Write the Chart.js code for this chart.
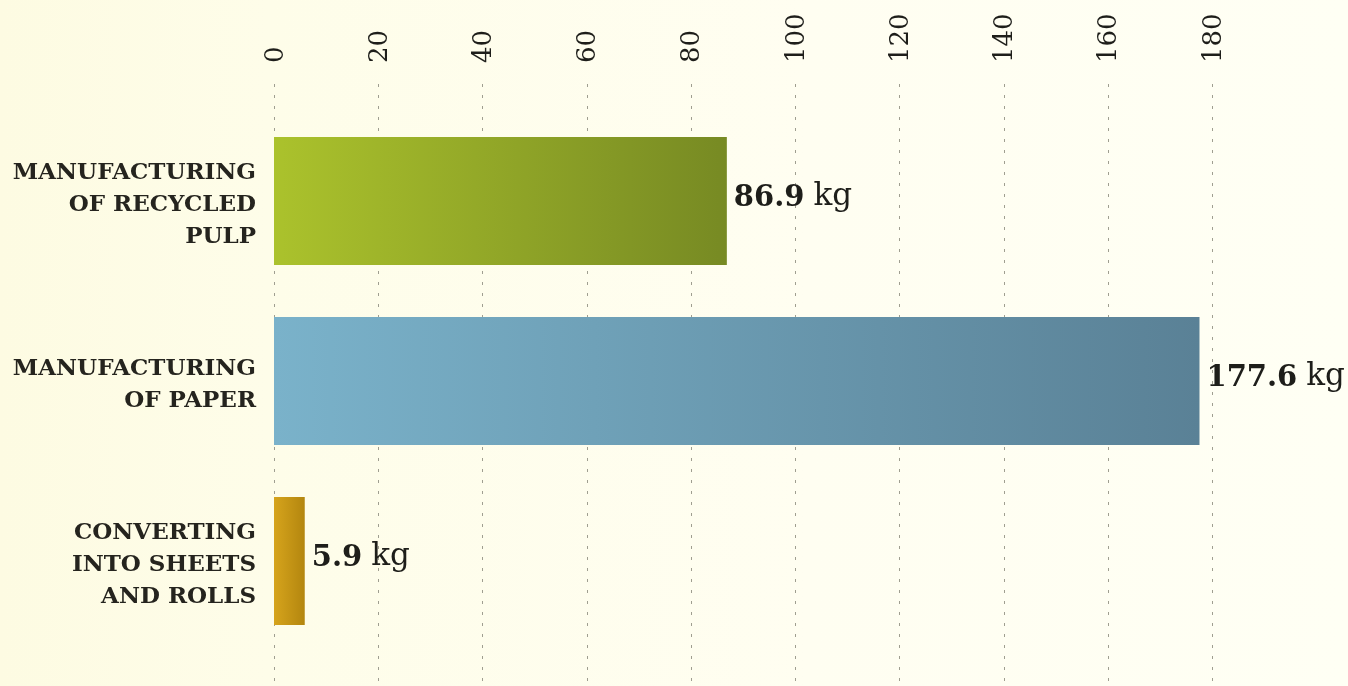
<!DOCTYPE html>
<html>
<head>
<meta charset="utf-8">
<script src="https://cdn.jsdelivr.net/npm/chart.js@4.4.1/dist/chart.umd.min.js"></script>
<style>
  html, body { margin: 0; padding: 0; }
  body {
    width: 1348px; height: 686px; overflow: hidden;
    background: linear-gradient(to right, #fdfbe2 0%, #fefde9 20%, #fffef1 60%, #fffff4 100%);
  }
  #wrap { position: relative; width: 1348px; height: 686px; }
</style>
</head>
<body>
<div id="wrap"><canvas id="grafica"></canvas></div>
<script>
// datos
const categorias = [
    ['MANUFACTURING', 'OF RECYCLED', 'PULP'],
    ['MANUFACTURING', 'OF PAPER'],
    ['CONVERTING', 'INTO SHEETS', 'AND ROLLS']
];
const valores = [86.9, 177.6, 5.9];
const unidad = 'kg';
const ticksX = [0, 20, 40, 60, 80, 100, 120, 140, 160, 180];

// colores de gradiente (izq -> der) por barra
const coloresBarra = [
    ['#abc22c', '#778a23'],
    ['#7ab2ca', '#5a8196'],
    ['#d6a41c', '#b3860f']
];

function gradienteBarra(context) {
    const chart = context.chart;
    const { ctx, chartArea } = chart;
    const par = coloresBarra[context.dataIndex];
    if (!chartArea || !chart.scales.x) return par[0];
    const escala = chart.scales.x;
    const x0 = escala.getPixelForValue(0);
    const x1 = Math.max(escala.getPixelForValue(valores[context.dataIndex]), x0 + 1);
    const g = ctx.createLinearGradient(x0, 0, x1, 0);
    g.addColorStop(0, par[0]);
    g.addColorStop(1, par[1]);
    return g;
}

// lineas punteadas verticales que van de arriba hasta el borde inferior
const lineasGrid = {
    id: 'lineasGrid',
    beforeDatasetsDraw(chart) {
        const { ctx } = chart;
        const escala = chart.scales.x;
        ctx.save();
        ctx.strokeStyle = '#9f9e90';
        ctx.lineWidth = 1;
        ctx.setLineDash([3, 8]);
        ticksX.forEach(v => {
            const x = Math.round(escala.getPixelForValue(v)) + 0.5;
            ctx.beginPath();
            ctx.moveTo(x, 84);
            ctx.lineTo(x, chart.height);
            ctx.stroke();
        });
        ctx.restore();
    }
};

// etiquetas de valor al final de cada barra
const etiquetasValor = {
    id: 'etiquetasValor',
    afterDatasetsDraw(chart) {
        const { ctx } = chart;
        const meta = chart.getDatasetMeta(0);
        ctx.save();
        ctx.fillStyle = '#1e1e1a';
        ctx.textBaseline = 'middle';
        ctx.textAlign = 'left';
        meta.data.forEach((bar, i) => {
            const num = valores[i].toFixed(1);
            let x = bar.x + 7;
            const y = bar.y - 3;
            ctx.font = 'bold 29px "DejaVu Serif"';
            ctx.fillText(num, x, y);
            x += ctx.measureText(num).width + 9;
            ctx.font = '31px "DejaVu Serif"';
            ctx.fillText(unidad, x, y - 1);
        });
        ctx.restore();
    }
};

document.addEventListener('DOMContentLoaded', () => {
    const ctx = document.getElementById('grafica').getContext('2d');
    new Chart(ctx, {
        type: 'bar',
        data: {
            labels: categorias,
            datasets: [{
                data: valores,
                backgroundColor: gradienteBarra,
                borderWidth: 0,
                barPercentage: 0.71,
                categoryPercentage: 1
            }]
        },
        options: {
            indexAxis: 'y',
            responsive: true,
            maintainAspectRatio: false,
            animation: false,
            layout: { padding: { top: 12, right: 136, bottom: 35, left: 0 } },
            plugins: {
                legend: { display: false },
                title: { display: false },
                tooltip: { enabled: false }
            },
            scales: {
                x: {
                    position: 'top',
                    min: 0,
                    max: 180,
                    afterBuildTicks: scale => {
                        scale.ticks = ticksX.map(v => ({ value: v }));
                    },
                    afterFit: scale => {
                        scale.height = 99;
                        scale.paddingLeft = 0;
                        scale.paddingRight = 0;
                    },
                    ticks: {
                        minRotation: 90,
                        maxRotation: 90,
                        padding: 48,
                        labelOffset: 33,
                        color: '#1e1e1a',
                        font: { family: '"DejaVu Serif"', size: 26 }
                    },
                    grid: { display: false, drawTicks: false },
                    border: { display: false }
                },
                y: {
                    afterFit: scale => {
                        scale.width = 274;
                        scale.paddingTop = 0;
                        scale.paddingBottom = 0;
                    },
                    ticks: {
                        padding: 18,
                        labelOffset: 4,
                        color: '#25241e',
                        font: { family: '"DejaVu Serif"', size: 23, weight: 'bold', lineHeight: 1.39 }
                    },
                    grid: { display: false, drawTicks: false },
                    border: { display: false }
                }
            }
        },
        plugins: [lineasGrid, etiquetasValor]
    });
});
</script>
</body>
</html>
